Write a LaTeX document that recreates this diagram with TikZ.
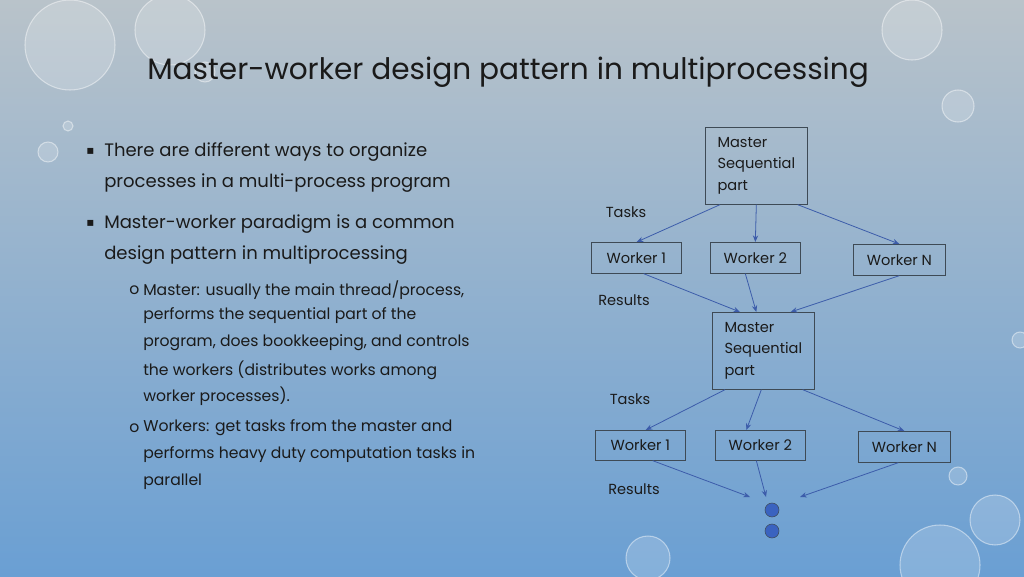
\documentclass[tikz,border=0pt]{standalone}
\usepackage{fontspec}
\setmainfont{Poppins}
\newfontfamily\symfont{DejaVu Sans}
\usetikzlibrary{arrows.meta}
\definecolor{bgtop}{HTML}{B9C3CA}
\definecolor{bgbot}{HTML}{6A9FD3}
\definecolor{flow}{HTML}{3C5CAA}
\definecolor{boxline}{HTML}{3E4A55}
\definecolor{ink}{HTML}{1A1A1A}
\definecolor{dotblue}{HTML}{3A63C0}
\tikzset{
  box/.style={draw=boxline,line width=0.5pt,anchor=north west,inner sep=0pt,font=\fontsize{11}{17.5}\selectfont,text=ink},
  masterbox/.style={box,align=left,inner xsep=7pt,minimum height=77*0.0265cm,minimum width=102*0.0265cm},
  flowarrow/.style={draw=flow,line width=0.6pt,-{Stealth[length=5pt,width=4pt]}},
  lbl/.style={font=\fontsize{11}{13}\selectfont,text=ink},
  bodytxt/.style={anchor=west,inner sep=0pt,font=\fontsize{13.6}{17}\selectfont,text=ink},
  subtxt/.style={anchor=west,inner sep=0pt,font=\fontsize{11.8}{14}\selectfont,text=ink},
  bullet/.style={anchor=west,inner sep=0pt,font=\symfont\fontsize{9}{9}\selectfont,text=ink},
  drop/.style={fill=white,fill opacity=0.18,draw=white,draw opacity=0.45,line width=0.8pt}
}
\begin{document}
\begin{tikzpicture}[x=0.0265cm,y=-0.0265cm]
\shade[top color=bgtop,bottom color=bgbot] (0,0) rectangle (1024,576);
\useasboundingbox (0,0) rectangle (1024,576);
% droplets
\fill[drop] (70,45) circle (45);
\fill[drop] (170,30) circle (35);
\fill[drop] (48,152) circle (10);
\fill[drop] (68,126) circle (5);
\fill[drop] (205,72) circle (10);
\fill[drop] (958,106) circle (16);
\fill[drop] (912,30) circle (30);
\fill[drop] (995,520) circle (25);
\fill[drop] (958,476) circle (9);
\fill[drop] (648,558) circle (22);
\fill[drop] (940,565) circle (40);
\fill[drop] (1020,340) circle (8);
% title
\node[anchor=west,inner sep=0pt,font=\fontsize{22.3}{26}\selectfont,text=ink] (title) at (147,72) {Master-worker design pattern in multiprocessing};
% bullets
\node[bullet] (b1) at (86,151) {▪};
\node[bodytxt] (t1a) at (104,152) {There are different ways to organize};
\node[bodytxt] (t1b) at (104,183) {processes in a multi-process program};
\node[bullet] (b2) at (86,223) {▪};
\node[bodytxt] (t2a) at (104,224) {Master-worker paradigm is a common};
\node[bodytxt] (t2b) at (104,255) {design pattern in multiprocessing};
\node[subtxt] (o1) at (129,290) {o};
\node[subtxt] (s1a) at (143,290) {Master: usually the main thread/process,};
\node[subtxt] (s1b) at (143,316) {performs the sequential part of the};
\node[subtxt] (s1c) at (143,343) {program, does bookkeeping, and controls};
\node[subtxt] (s1d) at (143,370) {the workers (distributes works among};
\node[subtxt] (s1e) at (143,396) {worker processes).};
\node[subtxt] (o2) at (129,428) {o};
\node[subtxt] (s2a) at (143,428) {Workers: get tasks from the master and};
\node[subtxt] (s2b) at (143,455) {performs heavy duty computation tasks in};
\node[subtxt] (s2c) at (143,482) {parallel};
% first stage
\node[masterbox] (mA) at (705,127) {Master\\[-1pt]Sequential\\[-1pt]part};
\node[box,minimum width=90*0.0265cm,minimum height=31*0.0265cm] (wA1) at (591,242) {Worker 1};
\node[box,minimum width=90*0.0265cm,minimum height=31*0.0265cm] (wA2) at (710,242) {Worker 2};
\node[box,minimum width=92*0.0265cm,minimum height=31*0.0265cm] (wAN) at (853,244) {Worker N};
\node[lbl] (tasksA) at (626,212) {Tasks};
\node[lbl] (resA) at (624,300) {Results};
% second stage
\node[masterbox] (mB) at (712,312) {Master\\[-1pt]Sequential\\[-1pt]part};
\node[box,minimum width=90*0.0265cm,minimum height=30*0.0265cm] (wB1) at (595,430) {Worker 1};
\node[box,minimum width=90*0.0265cm,minimum height=30*0.0265cm] (wB2) at (715,430) {Worker 2};
\node[box,minimum width=92*0.0265cm,minimum height=31*0.0265cm] (wBN) at (858,431) {Worker N};
\node[lbl] (tasksB) at (630,399) {Tasks};
\node[lbl] (resB) at (634,489) {Results};
\fill[dotblue,draw=boxline,line width=0.4pt] (772,510) circle (7) coordinate (dot1);
\fill[dotblue,draw=boxline,line width=0.4pt] (772,531) circle (7) coordinate (dot2);
\coordinate (endL) at (750,497);
\coordinate (endM) at (766,497);
\coordinate (endR) at (800,497);
% arrows
\draw[flowarrow] ([xshift=15*0.0265cm]mA.south west) -- ([xshift=-45*0.0265cm]wA1.north east);
\draw[flowarrow] (mA.south) -- (wA2.north);
\draw[flowarrow] ([xshift=-10*0.0265cm]mA.south east) -- (wAN.north);
\draw[flowarrow] ([xshift=-38*0.0265cm]wA1.south east) -- ([xshift=28*0.0265cm]mB.north west);
\draw[flowarrow] ([xshift=-10*0.0265cm]wA2.south) -- ([xshift=-7*0.0265cm]mB.north);
\draw[flowarrow] (wAN.south) -- ([xshift=-24*0.0265cm]mB.north east);
\draw[flowarrow] ([xshift=13*0.0265cm]mB.south west) -- ([xshift=-40*0.0265cm]wB1.north east);
\draw[flowarrow] ([xshift=-2*0.0265cm]mB.south) -- ([xshift=-14*0.0265cm]wB2.north);
\draw[flowarrow] ([xshift=-12*0.0265cm]mB.south east) -- (wBN.north);
\draw[flowarrow] ([xshift=-33*0.0265cm]wB1.south east) -- (endL);
\draw[flowarrow] ([xshift=-4*0.0265cm]wB2.south) -- (endM);
\draw[flowarrow] ([xshift=-6*0.0265cm]wBN.south) -- (endR);
\end{tikzpicture}
\end{document}
